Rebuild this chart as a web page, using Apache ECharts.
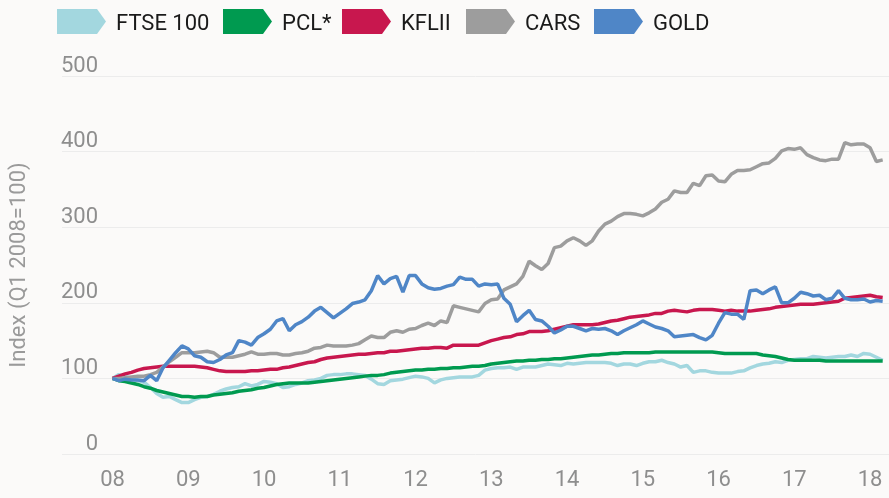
<!DOCTYPE html>
<html>
<head>
<meta charset="utf-8">
<script src="https://cdn.jsdelivr.net/npm/echarts@6/dist/echarts.min.js"></script>
<style>
html,body{margin:0;padding:0;background:#fbfaf9;}
#chart{width:889px;height:498px;}
</style>
</head>
<body>
<div id="chart"></div>
<script>
// monthly index, Jan 2008 .. Mar 2018 (Q1 2008 = 100)
const seriesNames = ['FTSE 100', 'PCL*', 'KFLII', 'CARS', 'GOLD']
const colors = ['#a3d7df', '#009a50', '#c8174e', '#9d9d9d', '#4f86c7']
const legendLefts = [57, 223, 342, 466, 594]
const yearLabels = ['08', '09', '10', '11', '12', '13', '14', '15', '16', '17', '18']
const yearTicks = [0, 12, 24, 36, 48, 60, 72, 84, 96, 108, 120]

const ftse = [100,105,103,100,97,95,88,80,75,76,72,68,68,72,75,76,79,83,86,88,89,93,90,92,96,95,93,88,89,92,
  94,97,98,100,104,105,105,106,106,105,104,99,93,92,97,98,99,101,103,102,100,94,98,100,101,102,102,102,104,111,
  113,114,114,115,112,115,115,115,117,119,118,117,120,119,120,121,121,121,121,120,117,119,119,117,120,122,122,124,121,119,
  115,117,108,110,110,108,107,107,107,109,110,114,117,119,120,122,121,124,125,126,126,129,128,127,128,129,129,131,129,133,
  132,128,124]
const pcl = [100,97,96,94,92,89,87,84,82,80,78,76,76,75,76,76,78,79,80,81,83,84,85,87,88,90,92,93,94,94,
  94,94,95,96,97,98,99,100,101,102,103,104,104,105,107,108,109,110,111,111,112,112,113,113,114,114,115,116,116,117,
  119,120,121,122,123,123,124,124,125,125,126,126,127,128,129,130,131,131,132,133,133,134,134,134,134,134,135,135,135,135,
  135,135,135,135,135,135,134,133,133,133,133,133,133,131,130,129,127,125,124,124,124,124,124,123,123,123,123,123,123,123,
  123,123,123]
const kflii = [100,103,106,108,111,113,114,115,116,116,116,116,116,116,115,114,112,110,109,109,109,109,110,110,111,112,112,114,115,117,
  119,121,122,125,127,128,129,130,131,132,132,133,134,134,136,136,137,138,139,140,140,141,141,140,144,144,144,144,144,147,
  150,152,154,155,158,159,162,162,162,163,165,167,169,171,171,171,171,172,174,176,177,179,181,182,183,184,186,186,189,190,
  189,188,190,191,191,191,190,189,190,189,189,189,190,191,192,194,195,196,197,198,198,198,199,200,201,202,206,207,208,209,
  210,208,207]
const cars = [100,100,101,102,103,103,105,108,115,122,128,134,134,134,135,136,134,128,128,128,130,132,135,132,132,133,133,131,131,133,
  134,136,140,141,144,143,143,143,144,146,151,156,154,154,161,163,161,165,166,170,173,170,176,174,196,194,192,190,188,199,
  204,205,217,221,225,235,255,249,244,252,273,275,282,286,282,276,282,295,304,308,314,318,318,317,315,319,324,333,337,348,
  346,346,358,355,368,369,361,360,370,375,375,376,380,384,385,391,401,404,403,405,396,392,389,388,390,390,412,409,410,410,
  405,387,389]
const gold = [100,97,99,98,98,97,104,97,114,124,134,143,139,130,128,122,121,125,131,134,150,148,144,154,159,165,176,179,163,171,
  175,181,189,194,187,180,186,192,199,201,204,216,236,225,232,235,214,236,236,225,220,218,219,222,224,234,231,231,222,225,
  224,225,206,198,175,183,190,178,176,169,160,164,169,169,166,163,166,165,166,163,158,163,167,171,176,172,168,166,163,155,
  156,157,158,154,151,157,173,187,185,185,178,216,217,212,217,221,200,200,206,214,212,209,210,204,206,216,206,204,204,205,
  201,203,202]

const allValues = [ftse, pcl, kflii, cars, gold]

const arrowIcon = 'path://M0,0L40,0L49,12.5L40,25L0,25Z'
const axisFont = 'Roboto'

const chart = echarts.init(document.getElementById('chart'))

const option = {
  backgroundColor: '#fbfaf9',
  animation: false,
  textStyle: { fontFamily: axisFont },
  // one legend per item so each sits where it does in the original
  legend: seriesNames.map((name, k) => ({
    left: legendLefts[k],
    top: 9,
    padding: 0,
    icon: arrowIcon,
    itemWidth: 49,
    itemHeight: 25,
    formatter: '{t|{name}}',
    textStyle: {
      fontSize: 22,
      color: '#1a1a1a',
      fontFamily: axisFont,
      rich: {
        t: { fontSize: 22, color: '#1a1a1a', fontFamily: axisFont, padding: [6, 0, 0, 5] }
      }
    },
    data: [name]
  })),
  grid: { left: 60, right: 0, top: 76, bottom: 44 },
  xAxis: {
    type: 'value',
    min: -8,
    max: 123,
    axisLine: { show: false },
    axisTick: { show: false },
    splitLine: { show: false },
    axisLabel: {
      customValues: yearTicks,
      formatter: v => yearLabels[yearTicks.indexOf(v)],
      fontSize: 22,
      color: '#8e8e8e',
      margin: 15
    }
  },
  yAxis: {
    type: 'value',
    min: 0,
    max: 500,
    interval: 100,
    name: 'Index (Q1 2008=100)',
    nameLocation: 'middle',
    nameGap: 32,
    nameTextStyle: { fontSize: 22, color: '#9a9a9a' },
    axisLine: { show: false },
    axisTick: { show: false },
    splitLine: { lineStyle: { color: '#ececec', width: 1 } },
    axisLabel: {
      inside: true,
      align: 'right',
      verticalAlign: 'bottom',
      margin: 36,
      fontSize: 22,
      lineHeight: 20,
      color: '#8e8e8e'
    }
  },
  series: seriesNames.map((name, k) => ({
    name: name,
    type: 'line',
    showSymbol: false,
    color: colors[k],
    lineStyle: { width: 3.5, color: colors[k] },
    data: allValues[k].map((v, i) => [i, v])
  }))
}

chart.setOption(option)
</script>
</body>
</html>
